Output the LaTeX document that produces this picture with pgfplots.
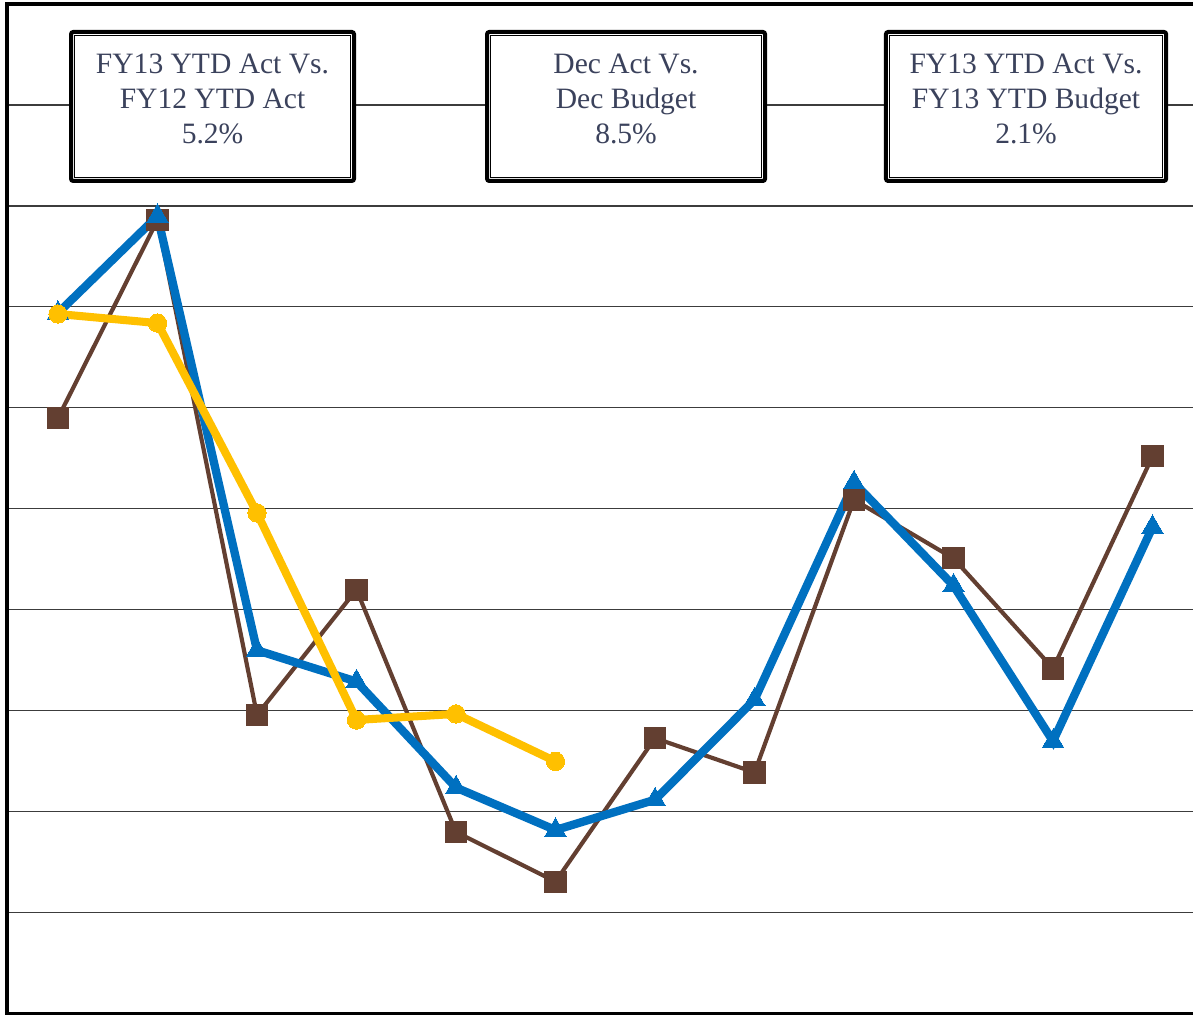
\documentclass[border=0pt]{standalone}
\usepackage{pgfplots}
\pgfplotsset{compat=1.18}
\usepackage{fontspec}
\setmainfont{Liberation Serif}

\definecolor{actbrown}{RGB}{99,63,49}
\definecolor{ytdblue}{RGB}{0,112,192}
\definecolor{budgold}{RGB}{255,192,0}
\definecolor{boxtext}{RGB}{59,66,92}
\definecolor{gridgray}{RGB}{60,60,60}

\tikzset{
  varbox/.style={draw=black, line width=1.45pt, rounded corners=0.8pt,
      fill=white, minimum height=53.7pt, inner sep=0pt},
  vartext/.style={anchor=north, align=center, inner sep=0pt, text=boxtext,
      font=\fontsize{10.65pt}{12.6pt}\selectfont},
  innerframe/.style={black, line width=0.4pt},
}

\begin{document}
\begin{tikzpicture}
\begin{axis}[
  scale only axis,
  width=427.5pt, height=364pt,
  xmin=-0.5126, xmax=11.407,
  ymin=0, ymax=10,
  axis line style={draw=none},
  xtick=\empty,
  ytick={1,2,...,9},
  yticklabels={},
  major tick length=0pt,
  ymajorgrids,
  grid style={gridgray, line width=0.4pt},
  clip=false,
]
% frame: left, top and bottom edges only
\draw[black, line width=1.1pt] (rel axis cs:1,1) -- (rel axis cs:0,1) -- (rel axis cs:0,0) -- (rel axis cs:1,0);

% Actual FY12
\addplot[actbrown, line width=1.5pt, mark=square*, mark size=3.8pt,
  mark options={solid, fill=actbrown, draw=actbrown, line width=0pt}]
  coordinates {(0,5.90) (1,7.86) (2,2.96) (3,4.20) (4,1.80) (5,1.31)
               (6,2.73) (7,2.39) (8,5.09) (9,4.51) (10,3.42) (11,5.52)};

% Actual FY13
\addplot[ytdblue, line width=3pt, mark=triangle*, mark size=4.4pt,
  mark options={solid, fill=ytdblue, draw=ytdblue, line width=0pt}]
  coordinates {(0,6.94) (1,7.90) (2,3.60) (3,3.29) (4,2.24) (5,1.82)
               (6,2.12) (7,3.11) (8,5.26) (9,4.24) (10,2.70) (11,4.82)};

% Budget FY13
\addplot[budgold, line width=2.9pt, mark=*, mark size=3.3pt,
  mark options={solid, fill=budgold, draw=budgold, line width=0pt}]
  coordinates {(0,6.93) (1,6.84) (2,4.96) (3,2.91) (4,2.97) (5,2.50)};

% variance boxes
\node[varbox, minimum width=102pt] (b1) at (axis cs:1.553,8.985) {};
\draw[innerframe] ([shift={(1.9pt,-1.9pt)}]b1.north west) rectangle ([shift={(-1.9pt,1.9pt)}]b1.south east);
\node[vartext] at (axis cs:1.553,9.51) {FY13 YTD Act Vs.\\FY12 YTD Act\\5.2\%};

\node[varbox, minimum width=100.2pt] (b2) at (axis cs:5.709,8.985) {};
\draw[innerframe] ([shift={(1.9pt,-1.9pt)}]b2.north west) rectangle ([shift={(-1.9pt,1.9pt)}]b2.south east);
\node[vartext] at (axis cs:5.709,9.51) {Dec Act Vs.\\Dec Budget\\8.5\%};

\node[varbox, minimum width=101pt] (b3) at (axis cs:9.729,8.985) {};
\draw[innerframe] ([shift={(1.9pt,-1.9pt)}]b3.north west) rectangle ([shift={(-1.9pt,1.9pt)}]b3.south east);
\node[vartext] at (axis cs:9.729,9.51) {FY13 YTD Act Vs.\\FY13 YTD Budget\\2.1\%};

\coordinate (bl) at (rel axis cs:0,0);
\coordinate (tr) at (rel axis cs:1,1);
\end{axis}
\pgfresetboundingbox
\path[use as bounding box] ([shift={(-2.52pt,-0.36pt)}]bl) rectangle ([shift={(0pt,1.44pt)}]tr);
\end{tikzpicture}
\end{document}
